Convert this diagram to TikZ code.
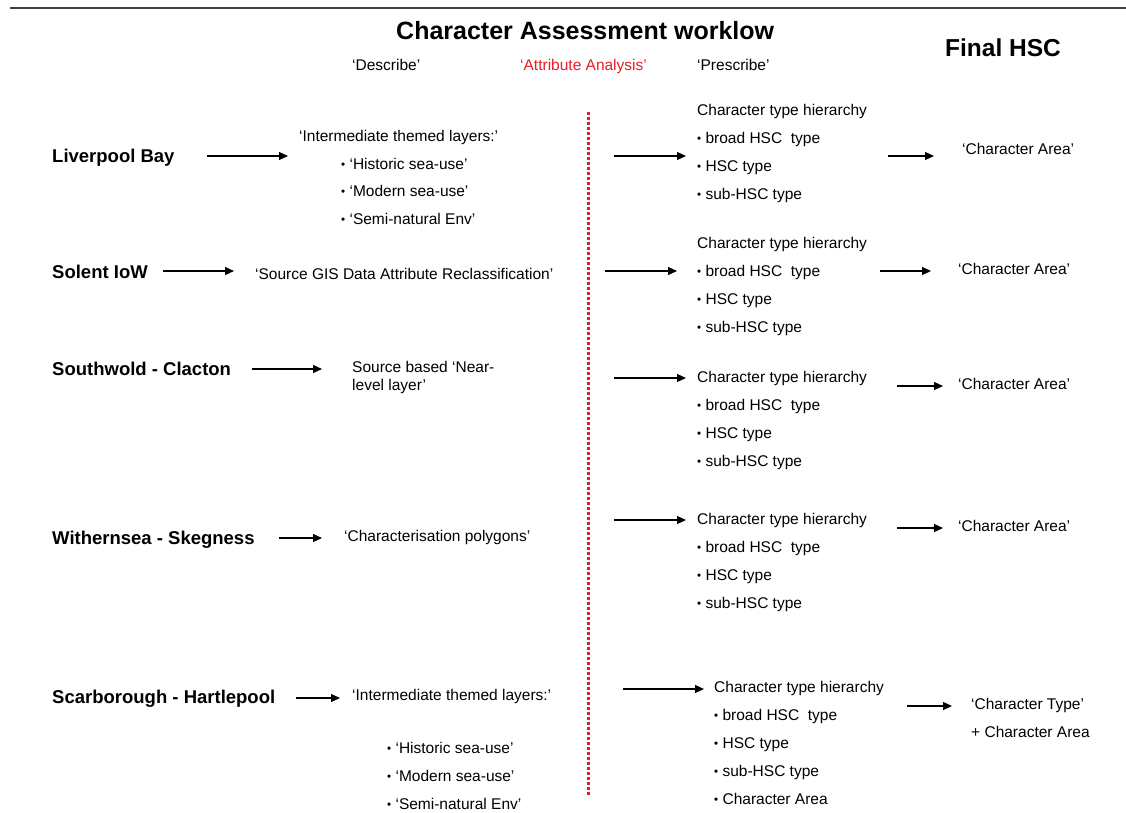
\documentclass[tikz,border=0pt]{standalone}
\usepackage{fontspec}
\usepackage{graphicx}
\setmainfont{Liberation Sans}
\usetikzlibrary{arrows.meta}
\definecolor{accentred}{RGB}{236,28,36}
\definecolor{rulegray}{RGB}{64,64,64}
\newcommand{\bul}{\raisebox{0.6pt}{\scalebox{0.75}{•}}\ }
\begin{document}
\begin{tikzpicture}[x=1pt,y=-1pt,
  txt/.style={anchor=base west, inner sep=0pt, yshift=-5.5pt, font=\fontsize{15.5}{18}\selectfont},
  hdr/.style={anchor=base west, inner sep=0pt, yshift=-5.5pt, font=\fontsize{15.5}{18}\selectfont},
  site/.style={anchor=base west, inner sep=0pt, yshift=-6.6pt, font=\bfseries\fontsize{18.5}{22}\selectfont},
  arr/.style={-{Triangle[length=9pt,width=8pt]}, line width=1.1pt},
  divider/.style={accentred, line width=3pt, dash pattern=on 3pt off 2pt}
]
\useasboundingbox (0,0) rectangle (1126,812);
\fill[white] (0,0) rectangle (1126,812);

% top rule and headings
\coordinate (ruleL) at (10,8);
\coordinate (ruleR) at (1126,8);
\draw[rulegray, line width=1.3pt] (ruleL) -- (ruleR);
\node[anchor=base west, inner sep=0pt, yshift=-9pt, font=\bfseries\fontsize{25}{30}\selectfont] (title) at (396,30) {Character Assessment worklow};
\node[anchor=base west, inner sep=0pt, yshift=-8.8pt, font=\bfseries\fontsize{24.5}{30}\selectfont] (final) at (945,48) {Final HSC};
\node[hdr] (hdesc) at (352,65) {‘Describe’};
\node[hdr, text=accentred] (hattr) at (520,65) {‘Attribute Analysis’};
\node[hdr] (hpres) at (697,65) {‘Prescribe’};

% divider between describe and prescribe
\coordinate (divT) at (588,112);
\coordinate (divB) at (588,796);
\draw[divider] (divT) -- (divB);

% ---- Liverpool Bay
\node[site] (s1) at (52,156) {Liverpool Bay};
\node[txt] (d1) at (299,136) {‘Intermediate themed layers:’};
\node[txt] (d1a) at (341,164) {\bul‘Historic sea-use’};
\node[txt] (d1b) at (341,191) {\bul‘Modern sea-use’};
\node[txt] (d1c) at (341,219) {\bul‘Semi-natural Env’};
\node[txt] (p1) at (697,110) {Character type hierarchy};
\node[txt] (p1a) at (697,138) {\bul broad HSC~ type};
\node[txt] (p1b) at (697,166) {\bul HSC type};
\node[txt] (p1c) at (697,194) {\bul sub-HSC type};
\node[txt] (f1) at (962,149) {‘Character Area’};
\coordinate (a1s) at (207,156); \coordinate (a1e) at (288,156);
\coordinate (b1s) at (614,156); \coordinate (b1e) at (686,156);
\coordinate (c1s) at (888,156); \coordinate (c1e) at (934,156);
\draw[arr] (a1s) -- (a1e);
\draw[arr] (b1s) -- (b1e);
\draw[arr] (c1s) -- (c1e);

% ---- Solent IoW
\node[site] (s2) at (52,272) {Solent IoW};
\node[txt] (d2) at (255,274) {‘Source GIS Data Attribute Reclassification’};
\node[txt] (p2) at (697,243) {Character type hierarchy};
\node[txt] (p2a) at (697,271) {\bul broad HSC~ type};
\node[txt] (p2b) at (697,299) {\bul HSC type};
\node[txt] (p2c) at (697,327) {\bul sub-HSC type};
\node[txt] (f2) at (958,269) {‘Character Area’};
\coordinate (a2s) at (163,271); \coordinate (a2e) at (234,271);
\coordinate (b2s) at (605,271); \coordinate (b2e) at (677,271);
\coordinate (c2s) at (880,271); \coordinate (c2e) at (931,271);
\draw[arr] (a2s) -- (a2e);
\draw[arr] (b2s) -- (b2e);
\draw[arr] (c2s) -- (c2e);

% ---- Southwold - Clacton
\node[site] (s3) at (52,369) {Southwold - Clacton};
\node[txt] (d3) at (352,367) {Source based ‘Near-};
\node[txt] (d3b) at (352,385) {level layer’};
\node[txt] (p3) at (697,377) {Character type hierarchy};
\node[txt] (p3a) at (697,405) {\bul broad HSC~ type};
\node[txt] (p3b) at (697,433) {\bul HSC type};
\node[txt] (p3c) at (697,461) {\bul sub-HSC type};
\node[txt] (f3) at (958,384) {‘Character Area’};
\coordinate (a3s) at (252,369); \coordinate (a3e) at (322,369);
\coordinate (b3s) at (614,378); \coordinate (b3e) at (686,378);
\coordinate (c3s) at (897,386); \coordinate (c3e) at (943,386);
\draw[arr] (a3s) -- (a3e);
\draw[arr] (b3s) -- (b3e);
\draw[arr] (c3s) -- (c3e);

% ---- Withernsea - Skegness
\node[site] (s4) at (52,538) {Withernsea - Skegness};
\node[txt] (d4) at (344,536) {‘Characterisation polygons’};
\node[txt] (p4) at (697,519) {Character type hierarchy};
\node[txt] (p4a) at (697,547) {\bul broad HSC~ type};
\node[txt] (p4b) at (697,575) {\bul HSC type};
\node[txt] (p4c) at (697,603) {\bul sub-HSC type};
\node[txt] (f4) at (958,526) {‘Character Area’};
\coordinate (a4s) at (279,538); \coordinate (a4e) at (322,538);
\coordinate (b4s) at (614,520); \coordinate (b4e) at (686,520);
\coordinate (c4s) at (897,528); \coordinate (c4e) at (943,528);
\draw[arr] (a4s) -- (a4e);
\draw[arr] (b4s) -- (b4e);
\draw[arr] (c4s) -- (c4e);

% ---- Scarborough - Hartlepool
\node[site] (s5) at (52,697) {Scarborough - Hartlepool};
\node[txt] (d5) at (352,695) {‘Intermediate themed layers:’};
\node[txt] (d5a) at (387,748) {\bul‘Historic sea-use’};
\node[txt] (d5b) at (387,776) {\bul‘Modern sea-use’};
\node[txt] (d5c) at (387,804) {\bul‘Semi-natural Env’};
\node[txt] (p5) at (714,687) {Character type hierarchy};
\node[txt] (p5a) at (714,715) {\bul broad HSC~ type};
\node[txt] (p5b) at (714,743) {\bul HSC type};
\node[txt] (p5c) at (714,771) {\bul sub-HSC type};
\node[txt] (p5d) at (714,799) {\bul Character Area};
\node[txt] (f5) at (971,704) {‘Character Type’};
\node[txt] (f5b) at (971,732) {+ Character Area};
\coordinate (a5s) at (296,698); \coordinate (a5e) at (340,698);
\coordinate (b5s) at (623,689); \coordinate (b5e) at (704,689);
\coordinate (c5s) at (907,706); \coordinate (c5e) at (952,706);
\draw[arr] (a5s) -- (a5e);
\draw[arr] (b5s) -- (b5e);
\draw[arr] (c5s) -- (c5e);
\end{tikzpicture}
\end{document}
